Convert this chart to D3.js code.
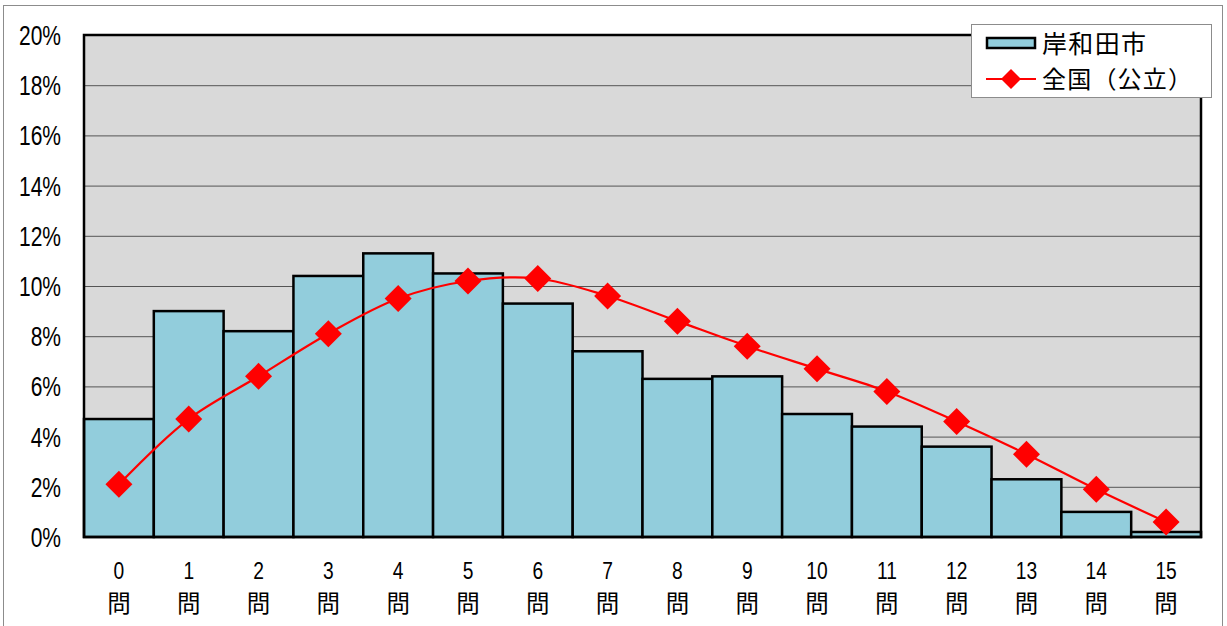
<!DOCTYPE html>
<html>
<head>
<meta charset="utf-8">
<script src="https://cdn.jsdelivr.net/npm/d3@7"></script>
<style>
  html, body { margin: 0; padding: 0; background: #fff; }
  svg { display: block; }
  text { font-family: "Noto Sans CJK JP", "Noto Sans", sans-serif; fill: #000; }
  text.num { font-family: "Liberation Sans", Arial, sans-serif; }
</style>
</head>
<body>
<script>
// Distribution of the number of correct answers (percent of students)
const categories = ["0","1","2","3","4","5","6","7","8","9","10","11","12","13","14","15"];
const cityValues = [4.7, 9.0, 8.2, 10.4, 11.3, 10.5, 9.3, 7.4, 6.3, 6.4, 4.9, 4.4, 3.6, 2.3, 1.0, 0.2];
const nationalValues = [2.1, 4.7, 6.4, 8.1, 9.5, 10.2, 10.3, 9.6, 8.6, 7.6, 6.7, 5.8, 4.6, 3.3, 1.9, 0.6];
const yTicks = [0, 2, 4, 6, 8, 10, 12, 14, 16, 18, 20];
const seriesNames = ["岸和田市", "全国（公立）"];
const unitLabel = "問";

const W = 1227, H = 626;
const plot = { left: 84, top: 35, right: 1201, bottom: 537 };

const svg = d3.select("body").append("svg").attr("width", W).attr("height", H);

// outer chart frame
svg.append("rect")
  .attr("x", 3.5).attr("y", 5.5).attr("width", 1219).attr("height", 630)
  .attr("fill", "#fff").attr("stroke", "#8c8c8c").attr("stroke-width", 1);

const x = d3.scaleBand().domain(categories).range([plot.left, plot.right]).padding(0);
const y = d3.scaleLinear().domain([0, 20]).range([plot.bottom, plot.top]);

// plot background
svg.append("rect")
  .attr("x", plot.left).attr("y", plot.top)
  .attr("width", plot.right - plot.left).attr("height", plot.bottom - plot.top)
  .attr("fill", "#d9d9d9");

// gridlines
svg.append("g")
  .attr("transform", `translate(${plot.left},0)`)
  .call(d3.axisLeft(y).tickValues(yTicks.filter(t => t > 0 && t < 20)).tickSize(-(plot.right - plot.left)).tickFormat(""))
  .call(g => g.select(".domain").remove())
  .call(g => g.selectAll("line").attr("stroke", "#555").attr("stroke-width", 1));

// city bars
svg.append("g").selectAll("rect")
  .data(cityValues)
  .join("rect")
  .attr("x", (d, i) => x(categories[i]))
  .attr("y", d => y(d))
  .attr("width", x.bandwidth())
  .attr("height", d => y(0) - y(d))
  .attr("fill", "#92cddc")
  .attr("stroke", "#000")
  .attr("stroke-width", 2.5);

// plot border
svg.append("rect")
  .attr("x", plot.left).attr("y", plot.top)
  .attr("width", plot.right - plot.left).attr("height", plot.bottom - plot.top)
  .attr("fill", "none").attr("stroke", "#000").attr("stroke-width", 2.5);

// national line
const cx = i => x(categories[i]) + x.bandwidth() / 2;
const line = d3.line().x((d, i) => cx(i)).y(d => y(d)).curve(d3.curveCatmullRom.alpha(0.5));
svg.append("path")
  .attr("d", line(nationalValues))
  .attr("fill", "none").attr("stroke", "#ff0000").attr("stroke-width", 2.2);

const diamond = (cxp, cyp, r) => `M${cxp},${cyp - r}L${cxp + r},${cyp}L${cxp},${cyp + r}L${cxp - r},${cyp}Z`;
svg.append("g").selectAll("path")
  .data(nationalValues)
  .join("path")
  .attr("d", (d, i) => diamond(cx(i), y(d), 13.5))
  .attr("fill", "#ff0000");

// y axis labels (narrow digits)
const yLab = svg.append("g");
yTicks.forEach(t => {
  yLab.append("text")
    .attr("class", "num")
    .attr("transform", `translate(61,${y(t) + 10}) scale(0.75,1)`)
    .attr("text-anchor", "end")
    .attr("font-size", 28)
    .text(t + "%");
});

// x axis labels: number over the counter character
const xLab = svg.append("g");
categories.forEach((c, i) => {
  xLab.append("text")
    .attr("class", "num")
    .attr("transform", `translate(${cx(i)},579) scale(0.8,1)`)
    .attr("text-anchor", "middle")
    .attr("font-size", 24)
    .text(c);
  xLab.append("text")
    .attr("x", cx(i)).attr("y", 612)
    .attr("text-anchor", "middle")
    .attr("font-size", 23.5)
    .text(unitLabel);
});

// legend
const lg = svg.append("g");
lg.append("rect")
  .attr("x", 971.5).attr("y", 24.5).attr("width", 240).attr("height", 73)
  .attr("fill", "#fff").attr("stroke", "#8c8c8c").attr("stroke-width", 1);
lg.append("rect")
  .attr("x", 987).attr("y", 38).attr("width", 48).attr("height", 10)
  .attr("fill", "#92cddc").attr("stroke", "#000").attr("stroke-width", 2.5);
lg.append("text")
  .attr("x", 1042).attr("y", 53)
  .attr("font-size", 25)
  .attr("textLength", 104)
  .attr("lengthAdjust", "spacing")
  .text(seriesNames[0]);
lg.append("line")
  .attr("x1", 986).attr("x2", 1036).attr("y1", 79).attr("y2", 79)
  .attr("stroke", "#ff0000").attr("stroke-width", 2.2);
lg.append("path")
  .attr("d", diamond(1011, 79, 10))
  .attr("fill", "#ff0000");
lg.append("text")
  .attr("x", 1042).attr("y", 88)
  .attr("font-size", 24)
  .attr("textLength", 150)
  .attr("lengthAdjust", "spacing")
  .text(seriesNames[1]);
</script>
</body>
</html>
